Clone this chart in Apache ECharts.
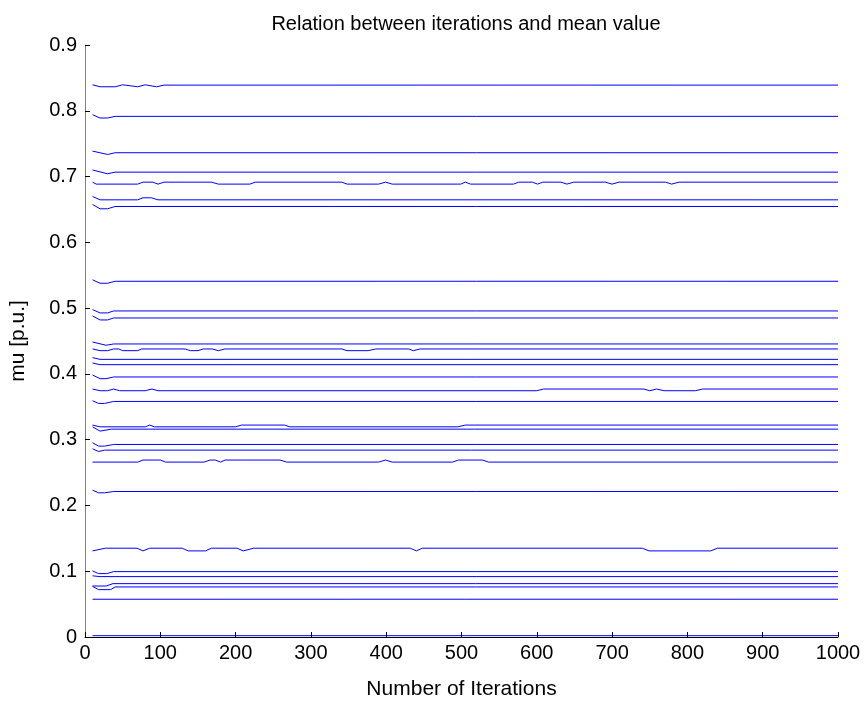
<!DOCTYPE html>
<html>
<head>
<meta charset="utf-8">
<script src="https://cdn.jsdelivr.net/npm/echarts@6/dist/echarts.min.js"></script>
<style>
  html, body { margin: 0; padding: 0; background: #fff; }
  #chart { width: 868px; height: 705px; }
</style>
</head>
<body>
<div id="chart"></div>
<script>
// [iteration, mu] breakpoints, one array per trace
var mu084 = [[10,0.8395],[20,0.8365],[40,0.8365],[50,0.8395],[70,0.8365],[80,0.8395],[95,0.8365],[105,0.839],[1000,0.839]];
var mu079 = [[10,0.794],[20,0.789],[30,0.789],[40,0.7915],[1000,0.7915]];
var mu074 = [[10,0.7387],[30,0.7336],[40,0.7362],[1000,0.7362]];
var mu071 = [[10,0.710],[30,0.7042],[40,0.7067],[1000,0.7067]];
var mu069 = [[10,0.6915],[15,0.6885],[70,0.6885],[77,0.6915],[90,0.6915],[97,0.6885],[105,0.6915],[168,0.6915],[177,0.6885],[219,0.6885],[226,0.6915],[341,0.6915],[348,0.6885],[390,0.6885],[399,0.6915],[408,0.6885],[499,0.6885],[505,0.6915],[512,0.6885],[569,0.6885],[576,0.6915],[594,0.6915],[601,0.6885],[608,0.6915],[632,0.6915],[640,0.6885],[649,0.6915],[691,0.6915],[700,0.6885],[709,0.6915],[771,0.6915],[779,0.6885],[789,0.6915],[1000,0.6915]];
var mu066 = [[10,0.6697],[20,0.6646],[70,0.6646],[77,0.6677],[88,0.6677],[97,0.6646],[1000,0.6646]];
var mu065 = [[10,0.6575],[20,0.651],[30,0.651],[40,0.6545],[1000,0.6545]];
var mu054 = [[10,0.543],[20,0.5378],[30,0.5378],[40,0.5408],[1000,0.5408]];
var mu050 = [[10,0.4977],[20,0.4927],[30,0.4927],[38,0.4957],[1000,0.4957]];
var mu048 = [[10,0.4881],[20,0.482],[30,0.482],[38,0.485],[1000,0.485]];
var mu045 = [[10,0.4485],[28,0.4435],[38,0.4455],[1000,0.4455]];
var mu044 = [[10,0.4379],[20,0.4353],[30,0.4353],[38,0.4379],[45,0.4379],[50,0.4353],[70,0.4353],[75,0.4379],[133,0.4379],[140,0.4353],[150,0.4353],[157,0.4379],[169,0.4379],[177,0.4353],[186,0.4379],[341,0.4379],[348,0.4353],[376,0.4353],[386,0.4379],[430,0.4379],[436,0.4353],[445,0.4379],[1000,0.4379]];
var mu042 = [[10,0.4247],[20,0.4221],[1000,0.4221]];
var mu041 = [[10,0.4166],[20,0.414],[1000,0.414]];
var mu040 = [[10,0.3983],[20,0.3927],[28,0.3927],[38,0.3953],[1000,0.3953]];
var mu038 = [[10,0.377],[20,0.3744],[30,0.3744],[38,0.377],[46,0.3744],[80,0.3744],[89,0.377],[97,0.3744],[600,0.3744],[609,0.377],[742,0.377],[750,0.3744],[759,0.377],[769,0.3744],[811,0.3744],[820,0.377],[1000,0.377]];
var mu036 = [[10,0.3592],[18,0.3551],[26,0.3551],[38,0.3581],[1000,0.3581]];
var mu032 = [[10,0.3222],[20,0.3195],[80,0.3195],[86,0.3222],[92,0.3195],[200,0.3195],[208,0.3222],[265,0.3222],[272,0.3195],[495,0.3195],[505,0.3222],[1000,0.3222]];
var mu0316 = [[10,0.3195],[20,0.313],[35,0.316],[1000,0.316]];
var mu029 = [[10,0.2953],[18,0.2902],[26,0.2902],[38,0.2927],[1000,0.2927]];
var mu028 = [[10,0.2861],[18,0.282],[26,0.2841],[1000,0.2841]];
var mu027 = [[10,0.2659],[70,0.2659],[77,0.269],[100,0.269],[107,0.2659],[158,0.2659],[166,0.269],[173,0.269],[180,0.2659],[186,0.269],[259,0.269],[268,0.2659],[390,0.2659],[399,0.269],[408,0.2659],[488,0.2659],[496,0.269],[528,0.269],[536,0.2659],[1000,0.2659]];
var mu022 = [[10,0.2232],[18,0.2192],[26,0.2192],[38,0.2212],[1000,0.2212]];
var mu013 = [[10,0.1309],[27,0.135],[69,0.135],[77,0.1309],[86,0.135],[129,0.135],[137,0.1309],[160,0.1309],[168,0.135],[202,0.135],[210,0.1309],[224,0.135],[432,0.135],[440,0.1309],[448,0.135],[740,0.135],[749,0.1309],[831,0.1309],[840,0.135],[1000,0.135]];
var mu010 = [[10,0.1005],[18,0.0964],[29,0.0964],[38,0.0994],[1000,0.0994]];
var mu009 = [[10,0.093],[20,0.0918],[1000,0.0918]];
var mu008 = [[10,0.0775],[28,0.0775],[37,0.0811],[1000,0.0811]];
var mu0076 = [[10,0.077],[18,0.072],[34,0.072],[40,0.0761],[1000,0.0761]];
var mu006 = [[10,0.0574],[1000,0.0574]];
var mu000 = [[10,0.002],[1000,0.002]];

var traces = [mu084, mu079, mu074, mu071, mu069, mu066, mu065, mu054, mu050, mu048,
  mu045, mu044, mu042, mu041, mu040, mu038, mu036, mu032, mu0316, mu029, mu028,
  mu027, mu022, mu013, mu010, mu009, mu008, mu0076, mu006, mu000];

var chart = echarts.init(document.getElementById('chart'));
var font = 'Liberation Sans, Arial, sans-serif';

var series = traces.map(function (d) {
  return {
    type: 'line',
    data: d,
    showSymbol: false,
    silent: true,
    lineStyle: { color: '#0000ff', width: 1 }
  };
});

chart.setOption({
  animation: false,
  backgroundColor: '#ffffff',
  title: {
    text: 'Relation between iterations and mean value',
    left: 461, top: 9, textAlign: 'center',
    textStyle: { fontFamily: font, fontSize: 20, fontWeight: 'normal', color: '#000' }
  },
  grid: { left: 85, right: 30, top: 45, bottom: 68 },
  xAxis: {
    type: 'value', min: 0, max: 1000, interval: 100,
    name: 'Number of Iterations', nameLocation: 'middle', nameGap: 42,
    nameTextStyle: { fontFamily: font, fontSize: 21, color: '#000' },
    axisLine: { lineStyle: { color: '#000' } },
    axisTick: { inside: true, length: 5, lineStyle: { color: '#000' } },
    axisLabel: {
      fontFamily: font, fontSize: 20, color: '#000', margin: 6,
      formatter: function (v) { return String(v); }
    },
    splitLine: { show: false }
  },
  yAxis: {
    type: 'value', min: 0, max: 0.9, interval: 0.1,
    name: 'mu [p.u.]', nameLocation: 'middle', nameGap: 56,
    nameTextStyle: { fontFamily: font, fontSize: 21, color: '#000' },
    axisLine: { show: true, lineStyle: { color: '#808080' } },
    axisTick: { show: true, inside: true, length: 5, lineStyle: { color: '#000' } },
    axisLabel: { fontFamily: font, fontSize: 20, color: '#000', margin: 8 },
    splitLine: { show: false }
  },
  series: series
});
</script>
</body>
</html>
